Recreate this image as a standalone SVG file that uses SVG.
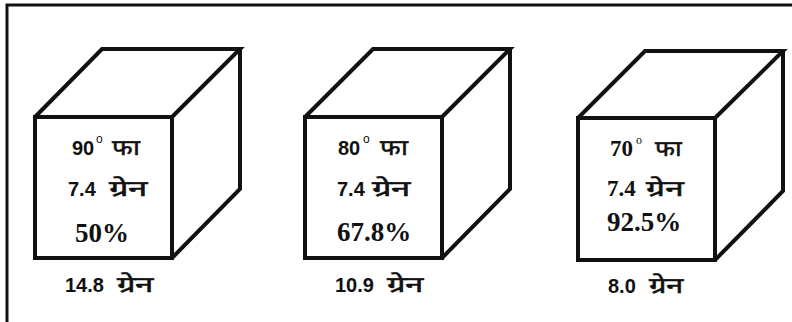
<svg xmlns="http://www.w3.org/2000/svg" width="792" height="322" viewBox="0 0 792 322">
<style>
.edge{fill:none;stroke:#111;stroke-width:4;stroke-linejoin:miter}
.sans{font-family:"Liberation Sans",Arial,sans-serif;font-weight:bold;font-size:20px;fill:#111}
.serif{font-family:"Liberation Serif","Times New Roman",serif;font-weight:bold;font-size:23px;fill:#111}
.dev{font-family:"Liberation Sans",sans-serif;font-weight:normal;font-size:22px;fill:#111;stroke:#111;stroke-width:0.5}
.big{font-family:"Liberation Serif","Times New Roman",serif;font-weight:bold;font-size:27px;fill:#111}
.sup{font-family:"Liberation Sans",Arial,sans-serif;font-size:12px;fill:#111}
.supS{font-family:"Liberation Serif",serif;font-size:12px;fill:#111}
</style>
<rect x="0" y="0" width="792" height="322" fill="#fff"/>
<path d="M7,322 V5 H792" fill="none" stroke="#111" stroke-width="3"/>
<g id="cube1">
<rect class="edge" x="35" y="117" width="137" height="141"/>
<path class="edge" d="M35,117 L102,49 H240 L172,117 M240,49 V189 L172,258"/>
<text class="sans" x="72" y="155">90</text><text class="sup" x="96" y="143">o</text>
<text class="dev" x="112" y="155" textLength="28" lengthAdjust="spacingAndGlyphs">फा</text>
<text class="sans" x="68" y="196">7.4</text>
<text class="dev" x="109" y="196" textLength="38" lengthAdjust="spacingAndGlyphs">ग्रेन</text>
<text class="big" x="75" y="242">50%</text>
<text class="sans" x="65" y="292">14.8</text>
<text class="dev" x="117" y="292" textLength="36" lengthAdjust="spacingAndGlyphs">ग्रेन</text>
</g>
<g id="cube2">
<rect class="edge" x="305" y="117" width="137" height="141"/>
<path class="edge" d="M305,117 L373,49 H510 L442,117 M510,49 V189 L442,258"/>
<text class="sans" x="338" y="155">80</text><text class="sup" x="363" y="143">o</text>
<text class="dev" x="380" y="155" textLength="28" lengthAdjust="spacingAndGlyphs">फा</text>
<text class="sans" x="337" y="196">7.4</text>
<text class="dev" x="372" y="196" textLength="38" lengthAdjust="spacingAndGlyphs">ग्रेन</text>
<text class="big" x="337" y="241">67.8%</text>
<text class="sans" x="335" y="292">10.9</text>
<text class="dev" x="387" y="292" textLength="36" lengthAdjust="spacingAndGlyphs">ग्रेन</text>
</g>
<g id="cube3">
<rect class="edge" x="578" y="118" width="137" height="142"/>
<path class="edge" d="M578,118 L645,51 H783 L715,118 M783,51 V191 L715,260"/>
<text class="serif" x="610" y="156">70</text><text class="supS" x="636" y="144">o</text>
<text class="dev" x="655" y="156" textLength="27" lengthAdjust="spacingAndGlyphs">फा</text>
<text class="serif" x="607" y="196">7.4</text>
<text class="dev" x="646" y="196" textLength="37" lengthAdjust="spacingAndGlyphs">ग्रेन</text>
<text class="big" x="607" y="231">92.5%</text>
<text class="sans" x="608" y="293">8.0</text>
<text class="dev" x="649" y="293" textLength="34" lengthAdjust="spacingAndGlyphs">ग्रेन</text>
</g>
<g id="connectors"/>
</svg>
